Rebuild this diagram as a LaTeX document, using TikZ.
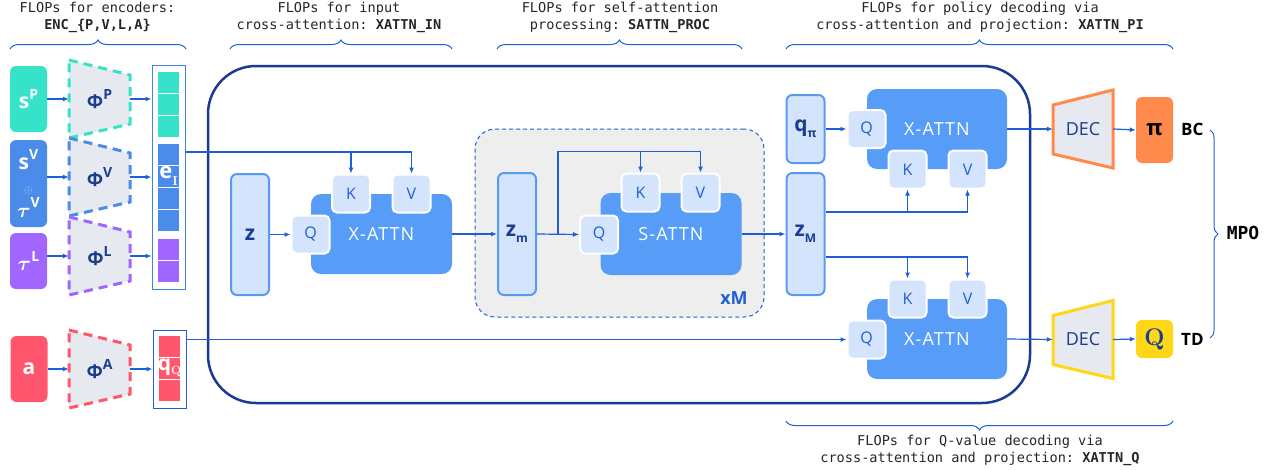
\documentclass[tikz,border=0pt]{standalone}
\usepackage{fontspec}
\usepackage{amsmath}
\setsansfont{Open Sans}
\setmonofont{DejaVu Sans Mono}
\newfontfamily\blockfont[LetterSpace=6]{Open Sans}
\usetikzlibrary{arrows.meta,positioning,calc,decorations.pathreplacing}

% palette
\definecolor{navy}{HTML}{1B3A94}
\definecolor{ink}{HTML}{1A3D8F}
\definecolor{wire}{HTML}{1F5FD6}
\definecolor{attn}{HTML}{579DF7}
\definecolor{tabfill}{HTML}{D4E4FC}
\definecolor{latent}{HTML}{5A9BF2}
\definecolor{encfill}{HTML}{E6E9EF}
\definecolor{loopfill}{HTML}{EEEEEE}
\definecolor{cP}{HTML}{37E3C8}
\definecolor{cV}{HTML}{4B8BEA}
\definecolor{cL}{HTML}{A066FF}
\definecolor{cA}{HTML}{FF566E}
\definecolor{cPi}{HTML}{FF8A4C}
\definecolor{cQ}{HTML}{FFD717}

\newcommand\hiup[1]{\raisebox{0.45em}{\fontsize{14}{14}\selectfont #1}}
\newcommand\lodn[1]{\raisebox{-0.3em}{\fontsize{12}{12}\selectfont #1}}

\tikzset{
  wire/.style={draw=wire, line width=1.2pt, -{Latex[length=6pt,width=5pt]}},
  inbox/.style={rounded corners=6pt, minimum width=37pt, text=white, inner sep=0pt,
    font=\sffamily\bfseries\fontsize{21}{22}\selectfont},
  encnode/.style={minimum width=61pt, minimum height=78pt, inner sep=0pt, text=ink,
    font=\sffamily\bfseries\fontsize{19}{20}\selectfont},
  encpath/.style={fill=encfill, line width=3pt, dash pattern=on 9pt off 6pt},
  decpath/.style={fill=encfill, line width=3pt},
  latentbox/.style={draw=latent, fill=tabfill, line width=2pt, rounded corners=6pt,
    minimum width=38pt, inner sep=0pt, text=ink,
    font=\sffamily\bfseries\fontsize{21}{22}\selectfont},
  attnbox/.style={fill=attn, rounded corners=10pt, minimum width=141pt, minimum height=80pt,
    text=white, inner sep=0pt, font=\blockfont\fontsize{18}{18}\selectfont},
  tabbox/.style={draw=white, fill=tabfill, line width=2pt, rounded corners=5pt,
    minimum width=38pt, minimum height=38pt, inner sep=0pt, text=wire,
    font=\sffamily\fontsize{16}{16}\selectfont},
  tokcol/.style={draw=latent!60!wire, line width=1pt, minimum width=33pt, inner sep=0pt},
  outbox/.style={rounded corners=6pt, minimum width=37pt, inner sep=0pt},
  outtag/.style={anchor=west, inner sep=0pt, font=\sffamily\bfseries\fontsize{17}{17}\selectfont},
  flops/.style={font=\ttfamily\fontsize{13.6}{17}\selectfont, align=center, text=black!85, inner sep=0pt},
  brc/.style={draw=wire, line width=1pt, decorate, decoration={brace, amplitude=9pt}}
}

\begin{document}
\begin{tikzpicture}[x=1pt,y=-1pt]
\useasboundingbox (0,0) rectangle (1274,469);

% shared core and the repeated self-attention block
\node[draw=navy, line width=2.5pt, rounded corners=48pt, minimum width=822pt, minimum height=337pt] (core) at (619,234.5) {};
\node[draw=wire, dash pattern=on 4pt off 3pt, line width=1pt, fill=loopfill, rounded corners=20pt,
  minimum width=289pt, minimum height=188pt] (loop) at (619.5,223) {};
\node[text=wire, font=\sffamily\bfseries\fontsize{18}{18}\selectfont] (rep) at (734,298) {xM};

% inputs
\node[inbox, fill=cP, minimum height=66pt] (sP) at (28.5,99) {s\hiup{P}};
\node[inbox, fill=cV, minimum height=87pt, align=center] (sV) at (28.5,183.5)
  {s\hiup{V}\\[2pt]{\fontsize{11}{11}\selectfont\color{white!60!cV}$\oplus$}\\[2pt]$\boldsymbol{\tau}$\hiup{V}};
\node[inbox, fill=cL, minimum height=56pt] (tL) at (28.5,261) {$\boldsymbol{\tau}$\hiup{L}};
\node[inbox, fill=cA, minimum height=66pt] (a) at (29,369) {a};

% encoders
\foreach \n/\y/\c in {P/99/cP, V/177/cV, L/256/cL, A/369/cA}
  \draw[encpath, draw=\c] (69,\y-39) -- (130,\y-24) -- (130,\y+25) -- (69,\y+39) -- cycle;
\node[encnode] (encP) at (99.5,99) {Φ\hiup{P}};
\node[encnode] (encV) at (99.5,177) {Φ\hiup{V}};
\node[encnode] (encL) at (99.5,256) {Φ\hiup{L}};
\node[encnode] (encA) at (99.5,369) {Φ\hiup{A}};

% token columns
\foreach \t in {72,94,116} \fill[cP] (158,\t) rectangle ++(21,21);
\foreach \t in {144,166,188,210} \fill[cV] (158,\t) rectangle ++(21,21);
\foreach \t in {239,261} \fill[cL] (158,\t) rectangle ++(21,21);
\foreach \t in {336,358,380} \fill[cA] (159,\t) rectangle ++(21,21);
\node[tokcol, minimum height=224pt] (tok) at (168.5,177) {};
\node[tokcol, draw=wire, minimum height=78pt] (qcol) at (169.5,369) {};
\node[text=white, font=\sffamily\bfseries\fontsize{22}{22}\selectfont] (eI) at (168.5,176)
  {e\raisebox{-0.35em}{\rmfamily\fontsize{13}{13}\selectfont I}};
\node[text=white, font=\sffamily\bfseries\fontsize{21}{21}\selectfont] (qQ) at (169.5,368)
  {q\raisebox{-0.2em}{\rmfamily\bfseries\fontsize{12}{12}\selectfont Q}};

% input cross-attention
\node[latentbox, minimum height=121pt] (z) at (250,234.5) {z};
\node[attnbox] (xin) at (381.5,234) {X-ATTN};
\node[tabbox] (q1) at (310.5,234.5) {Q};
\node[tabbox] (k1) at (351,193.5) {K};
\node[tabbox] (v1) at (411.5,193.5) {V};

% self-attention
\node[latentbox, minimum height=122pt] (zm) at (517,234) {z\lodn{m}};
\node[attnbox, minimum height=82pt] (sattn) at (671,234) {S-ATTN};
\node[tabbox] (q2) at (599,234.5) {Q};
\node[tabbox] (k2) at (640.5,192.5) {K};
\node[tabbox] (v2) at (700.5,192.5) {V};

% decoding heads
\node[latentbox, minimum height=122pt] (zM) at (805.5,234) {z\lodn{M}};
\node[latentbox, minimum height=68pt] (qpi) at (805.5,129) {q\lodn{π}};
\node[attnbox, minimum width=140pt] (xpi) at (937,129) {X-ATTN};
\node[tabbox] (q3) at (866.5,129) {Q};
\node[tabbox] (k3) at (907.5,169.5) {K};
\node[tabbox] (v3) at (967.5,169.5) {V};
\node[attnbox, minimum width=140pt] (xq) at (937,339) {X-ATTN};
\node[tabbox] (k4) at (907.5,298.5) {K};
\node[tabbox] (v4) at (967.5,298.5) {V};
\node[tabbox] (q4) at (866.5,339.5) {Q};

\foreach \y/\c in {129/cPi, 339.5/cQ}
  \draw[decpath, draw=\c] (1053,\y-24) -- (1113,\y-39) -- (1113,\y+39) -- (1053,\y+25) -- cycle;
\node[encnode, minimum width=60pt, font=\sffamily\fontsize{18}{18}\selectfont] (decP) at (1083,129) {DEC};
\node[encnode, minimum width=60pt, font=\sffamily\fontsize{18}{18}\selectfont] (decQ) at (1083,339.5) {DEC};
\node[outbox, fill=cPi, minimum height=66pt, font=\sffamily\bfseries\fontsize{22}{22}\selectfont] (pi) at (1154.5,130) {π};
\node[outbox, fill=cQ, minimum height=38pt, text=ink, font=\rmfamily\bfseries\fontsize{24}{24}\selectfont] (qv) at (1154.5,339) {Q};
\node[outtag] (bc) at (1181,129) {BC};
\node[outtag] (td) at (1181,339) {TD};
\node[font=\ttfamily\bfseries\fontsize{18}{18}\selectfont] (mpo) at (1243,233) {MPO};

% connectors
\draw[wire] (sP.east) -- (encP.west);
\draw[wire] (sV.east |- encV.west) -- (encV.west);
\draw[wire] (tL.east |- encL.west) -- (encL.west);
\draw[wire] (a.east) -- (encA.west);
\draw[wire] (encP.east) -- (encP.east -| tok.west);
\draw[wire] (encV.east) -- (encV.east -| tok.west);
\draw[wire] (encL.east) -- (encL.east -| tok.west);
\draw[wire] (encA.east) -- (encA.east -| qcol.west);

\coordinate (eTap) at ([yshift=25pt]tok.east);
\draw[wire] (eTap) -| (v1.north);
\draw[wire] (eTap -| k1.north) -- (k1.north);
\draw[wire] (z.east) -- (q1.west);
\draw[wire] (xin.east) -- (zm.west);

\coordinate (sTap) at ($(zm.east)!0.5!(q2.west)$);
\coordinate (sTop) at ([yshift=21pt]v2.north);
\draw[wire] (zm.east) -- (q2.west);
\draw[wire] (sTap) |- (sTop) -- (v2.north);
\draw[wire] (sTop -| k2.north) -- (k2.north);
\draw[wire] (sattn.east) -- (zM.west);

\draw[wire] (qpi.east) -- (q3.west);
\coordinate (mUp) at ([yshift=22pt]zM.east);
\draw[wire] (mUp) -| (v3.south);
\draw[wire] (mUp -| k3.south) -- (k3.south);
\coordinate (mDn) at ([yshift=-23pt]zM.east);
\draw[wire] (mDn) -| (v4.north);
\draw[wire] (mDn -| k4.north) -- (k4.north);
\draw[wire] (qcol.east |- q4.west) -- (q4.west);

\draw[wire] (xpi.east) -- (decP.west);
\draw[wire] (xq.east) -- (decQ.west);
\draw[wire] (decP.east) -- (pi.west);
\draw[wire] (decQ.east) -- (qv.west);

% FLOP groupings
\draw[brc] (10,49) -- (186,49);
\draw[brc] (230,49) -- (452,49);
\draw[brc] (497,49) -- (742,49);
\draw[brc] (786,49) -- (1173,49);
\draw[brc] (1173,421) -- (786,421);
\draw[brc, decoration={brace, amplitude=8pt}] (1210,130) -- (1210,338);

\node[flops] (fEnc) at (97.5,17.5) {FLOPs for encoders:\\\textbf{ENC\_\{P,V,L,A\}}};
\node[flops] (fIn) at (339,17.5) {FLOPs for input\\cross-attention: \textbf{XATTN\_IN}};
\node[flops] (fProc) at (620,17.5) {FLOPs for self-attention\\processing: \textbf{SATTN\_PROC}};
\node[flops] (fPi) at (980,17.5) {FLOPs for policy decoding via\\cross-attention and projection: \textbf{XATTN\_PI}};
\node[flops] (fQ) at (980,450) {FLOPs for Q-value decoding via\\cross-attention and projection: \textbf{XATTN\_Q}};
\end{tikzpicture}
\end{document}
